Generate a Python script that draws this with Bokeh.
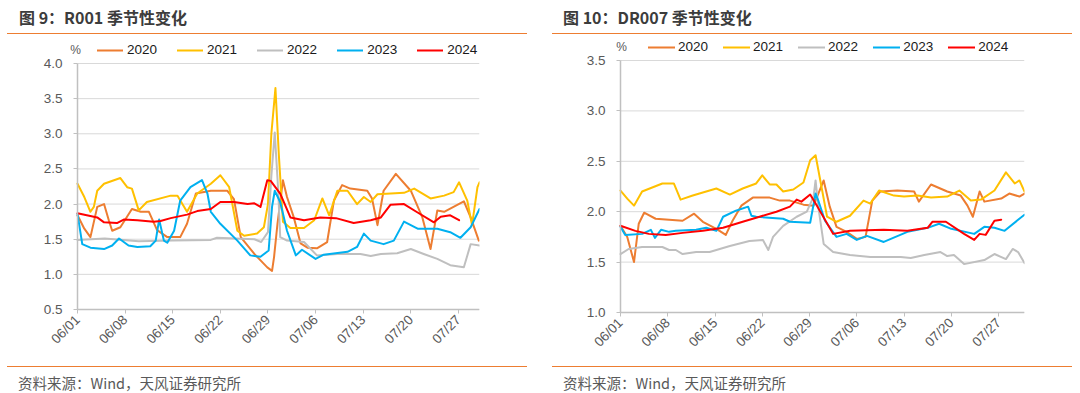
import math
from bokeh.plotting import figure
from bokeh.models import Range1d, FixedTicker, Legend, LegendItem, Label, Div
from bokeh.layouts import row, column
from bokeh.embed import file_html
from bokeh.resources import INLINE

# ---------------- data ----------------
years = ["2020", "2021", "2022", "2023", "2024"]
colors = ["#ED7D31", "#FFC000", "#BFBFBF", "#00B0F0", "#FF0000"]
tick_days = [0, 7, 14, 21, 28, 35, 42, 49, 56]
tick_labels = ["06/01", "06/08", "06/15", "06/22", "06/29", "07/06", "07/13", "07/20", "07/27"]

# R001 (left)
r001_2020_d = [0, 1, 1.9, 2.9, 3.9, 4.6, 5.1, 6.3, 8, 9.3, 10.5, 11.7, 13.2, 15.1, 16.1, 17.4, 19.6, 22, 23, 24, 26,
               27.9, 28.6, 28.9, 29.4, 30.2, 30.8, 31.8, 32.8, 33.8, 35.2, 36.7, 37.7, 38.9, 40.1, 42.6, 43.3, 44.1,
               45.0, 46.8, 49, 50.7, 51.9, 52.9, 53.9, 56.8, 57.8, 59]
r001_2020_v = [1.84, 1.65, 1.53, 1.96, 2.00, 1.77, 1.62, 1.67, 1.93, 1.89, 1.89, 1.63, 1.53, 1.53, 1.72, 2.15, 2.19,
               2.19, 2.07, 1.53, 1.29, 1.10, 1.05, 1.25, 1.72, 2.34, 2.10, 1.81, 1.44, 1.38, 1.37, 1.46, 2.05, 2.27,
               2.22, 2.19, 2.08, 1.70, 2.19, 2.43, 2.19, 1.81, 1.36, 1.91, 1.89, 2.04, 1.81, 1.48]
r001_2021_d = [0, 1, 1.9, 2.4, 2.9, 3.9, 6.3, 7.3, 8.0, 9.0, 10.2, 13.7, 14.7, 16.1, 17.6, 19.6, 21.0, 22.3, 23.5,
               24.5, 26.4, 27.4, 28.0, 28.5, 29.1, 29.6, 30.2, 31.3, 33.3, 34.8, 36.0, 37.0, 38.2, 39.7, 41.1, 42.1,
               43.1, 44.1, 48.0, 49.5, 51.9, 53.9, 55.3, 56.1, 57.3, 58.0, 58.8, 59.1]
r001_2021_v = [2.29, 2.10, 1.89, 1.96, 2.19, 2.29, 2.37, 2.24, 2.22, 1.91, 2.03, 2.12, 2.12, 1.89, 2.15, 2.29, 2.41,
               2.24, 1.62, 1.55, 1.58, 1.67, 2.00, 3.00, 3.65, 2.70, 1.75, 1.66, 1.66, 1.77, 2.08, 1.84, 2.19, 2.19,
               2.00, 2.10, 2.03, 2.14, 2.16, 2.22, 2.08, 2.12, 2.17, 2.31, 2.05, 1.70, 2.24, 2.31]
r001_2022_d = [0, 4, 9, 14, 19.6, 20.5, 26, 27, 28.0, 28.5, 29.0, 29.5, 29.8, 30.8, 33.3, 35.2, 38.2, 41.6, 43.1,
               44.6, 47.0, 49.0, 50.9, 52.9, 54.8, 56.8, 57.8, 59.1]
r001_2022_v = [1.49, 1.51, 1.47, 1.48, 1.49, 1.52, 1.50, 1.46, 1.60, 2.40, 3.02, 2.20, 1.53, 1.48, 1.46, 1.27, 1.29,
               1.29, 1.26, 1.29, 1.30, 1.36, 1.29, 1.22, 1.13, 1.10, 1.43, 1.41]
r001_2023_d = [0, 0.7, 1.9, 3.9, 5.1, 6.1, 7.5, 8.8, 10.7, 11.5, 12.0, 12.7, 13.2, 14.2, 15.1, 16.6, 18.3, 19.1,
               19.6, 21.0, 23.5, 25.4, 26.9, 28.1, 28.6, 29.0, 29.8, 30.8, 32.1, 33.0, 35.0, 36.2, 39.7, 41.1, 42.1,
               43.1, 45.0, 46.5, 48.0, 50.0, 52.9, 54.8, 56.3, 57.8, 59.1]
r001_2023_v = [1.86, 1.43, 1.38, 1.36, 1.41, 1.51, 1.41, 1.39, 1.40, 1.48, 1.78, 1.48, 1.45, 1.62, 2.05, 2.24, 2.34,
               2.15, 1.89, 1.72, 1.48, 1.27, 1.25, 1.34, 1.96, 2.19, 2.03, 1.62, 1.27, 1.35, 1.22, 1.28, 1.32, 1.39,
               1.58, 1.48, 1.43, 1.48, 1.75, 1.65, 1.65, 1.60, 1.52, 1.67, 1.93]
r001_2024_d = [0, 2.9, 3.9, 5.8, 6.8, 8.8, 11.2, 12.2, 13.7, 16.1, 17.6, 19.6, 21.0, 23.0, 25.0, 26.0, 26.9, 27.9,
               28.4, 29.8, 31.3, 33.3, 35.7, 38.0, 40.6, 43.1, 44.6, 46.0, 48.0, 50.0, 52.4, 53.4, 54.8, 56.1]
r001_2024_v = [1.87, 1.81, 1.74, 1.73, 1.78, 1.77, 1.75, 1.76, 1.80, 1.85, 1.90, 1.93, 2.03, 2.03, 2.00, 2.01, 1.96,
               2.34, 2.33, 2.15, 1.81, 1.77, 1.81, 1.80, 1.73, 1.77, 1.81, 1.99, 2.00, 1.88, 1.74, 1.82, 1.84, 1.77]

# DR007 (right)
dr007_2020_d = [0, 1, 2, 2.7, 3.5, 5.2, 9.2, 10.9, 12.2, 14.2, 15.6, 16.6, 17.9, 19.6, 22.1, 23.6, 25.1, 27.1, 28.6,
                30.1, 31.0, 32.0, 33.5, 35.0, 36.3, 37.3, 38.5, 41.0, 43.5, 44.2, 46.0, 48.4, 50.4, 51.4, 52.2, 53.2,
                53.9, 56.4, 57.6, 59.1, 59.85]
dr007_2020_v = [1.86, 1.75, 1.50, 1.88, 1.99, 1.93, 1.91, 1.98, 1.90, 1.83, 1.77, 1.91, 2.06, 2.14, 2.14, 2.11, 2.11,
                2.07, 2.06, 2.31, 2.05, 1.85, 1.80, 1.73, 1.75, 2.11, 2.20, 2.21, 2.20, 2.10, 2.27, 2.20, 2.16, 2.06,
                1.95, 2.20, 2.10, 2.13, 2.18, 2.15, 2.18]
dr007_2021_d = [0, 1, 2, 3.2, 6.2, 7.9, 8.9, 10.7, 14.2, 16.2, 18.1, 20.1, 21.0, 22.1, 23.1, 24.1, 25.6, 27.1, 28.1,
                28.9, 29.6, 30.6, 32.0, 34.0, 36.0, 37.0, 38.3, 40.5, 42.0, 44.0, 46.0, 48.4, 50.2, 51.9, 53.4, 55.4,
                57.1, 58.4, 59.1, 59.85]
dr007_2021_v = [2.21, 2.13, 2.06, 2.20, 2.28, 2.28, 2.12, 2.16, 2.23, 2.17, 2.23, 2.28, 2.36, 2.27, 2.27, 2.20, 2.22,
                2.29, 2.51, 2.56, 2.31, 1.95, 1.90, 1.96, 2.11, 2.08, 2.21, 2.16, 2.15, 2.16, 2.14, 2.15, 2.21, 2.11,
                2.12, 2.21, 2.39, 2.28, 2.31, 2.20]
dr007_2022_d = [0, 1.2, 3.2, 6.2, 7.2, 8.2, 9.2, 11.2, 13.2, 14.2, 16.2, 19.1, 21.1, 21.9, 22.6, 24.1, 26.1, 27.6,
                28.6, 28.9, 29.3, 30.1, 31.5, 34, 37, 41.5, 43, 45, 47.4, 48.4, 49.4, 50.9, 53.9, 55.4, 57.1, 58.1,
                58.9, 59.85]
dr007_2022_v = [1.58, 1.63, 1.65, 1.65, 1.62, 1.62, 1.58, 1.60, 1.60, 1.62, 1.66, 1.71, 1.72, 1.62, 1.75, 1.86, 1.95,
                2.00, 2.15, 2.31, 2.05, 1.68, 1.60, 1.57, 1.55, 1.55, 1.54, 1.57, 1.60, 1.56, 1.57, 1.48, 1.52, 1.58,
                1.53, 1.63, 1.60, 1.49]
dr007_2023_d = [0, 0.7, 3.2, 4.5, 5.1, 6.0, 7.2, 8.2, 11.2, 12.7, 14.2, 15.2, 17.1, 18.9, 19.4, 20.1, 24.1, 25.1,
                28.1, 28.9, 29.3, 30.3, 32.0, 33.5, 35.0, 36.5, 39.0, 42.5, 45.5, 47.2, 49.0, 52.4, 53.9, 55.4, 56.9,
                58.9, 59.85]
dr007_2023_v = [1.85, 1.77, 1.78, 1.82, 1.74, 1.82, 1.80, 1.81, 1.82, 1.84, 1.81, 1.95, 2.01, 2.05, 1.96, 1.95, 1.93,
                1.90, 1.89, 2.18, 2.11, 1.91, 1.75, 1.78, 1.72, 1.76, 1.70, 1.80, 1.84, 1.88, 1.83, 1.78, 1.85, 1.84,
                1.81, 1.92, 1.97]
dr007_2024_d = [0, 2.2, 4.2, 6.7, 9.2, 12.2, 15.2, 18.1, 20.6, 23.1, 25.1, 26.1, 26.8, 28.1, 29.1, 31.5, 34, 39,
                42.5, 45.5, 46.2, 48.2, 50.9, 52.4, 53.2, 54.1, 55.4, 56.4]
dr007_2024_v = [1.86, 1.81, 1.78, 1.77, 1.79, 1.81, 1.84, 1.90, 1.95, 2.00, 2.05, 2.12, 2.10, 2.17, 2.06, 1.78, 1.81,
                1.82, 1.81, 1.84, 1.90, 1.90, 1.78, 1.72, 1.78, 1.77, 1.91, 1.92]

left_title = "图 9：R001 季节性变化"
right_title = "图 10：DR007 季节性变化"
source_text = "资料来源：Wind，天风证券研究所"
unit_text = "%"
left_yticks = [0.5, 1.0, 1.5, 2.0, 2.5, 3.0, 3.5, 4.0]
right_yticks = [1.0, 1.5, 2.0, 2.5, 3.0, 3.5]

LABEL_FONT = "Liberation Sans"
CJK_FONT = "Noto Sans CJK SC"
ORANGE = "#ED7D31"
FIG_TOP = 34        # page y where the figures start
FIG_H = 332
FRAME_TOP = 38      # page y of the frame top
FRAME_BOTTOM = 360  # page y of the frame bottom (frame holds axes and their labels)
LEFT_PAD = 37       # frame extends this many px left of the y axis


def make_plot(series_d, series_v, yticks, px_per_unit, ytick_top_y, ytick_bot_y, px_per_day, xend,
              axis_x, mb_right, legend_dx, legend_cy, leg_glyph_w, leg_standoff, leg_spacing, pct_x, pct_y):
    xstart = -LEFT_PAD / px_per_day
    ytop = yticks[-1] + (ytick_top_y - FRAME_TOP) / px_per_unit
    ybot = yticks[0] - (FRAME_BOTTOM - ytick_bot_y) / px_per_unit
    p = figure(width=540, height=FIG_H, output_backend="svg", toolbar_location=None,
               x_range=Range1d(xstart, xend), y_range=Range1d(ybot, ytop),
               min_border_left=axis_x - LEFT_PAD, min_border_right=mb_right,
               min_border_top=FRAME_TOP - FIG_TOP,
               min_border_bottom=FIG_TOP + FIG_H - FRAME_BOTTOM, margin=(0, 0, 0, 0))
    p.outline_line_color = None
    p.background_fill_color = "white"
    p.border_fill_color = "white"
    p.xgrid.visible = False
    p.ygrid.visible = False

    # horizontal gridlines spanning the data domain only
    n = len(yticks)
    p.segment(x0=[0] * n, y0=yticks, x1=[xend] * n, y1=yticks, line_color="#D9D9D9", line_width=1)

    ya = p.yaxis[0]
    ya.fixed_location = 0
    ya.ticker = FixedTicker(ticks=yticks)
    ya.major_label_overrides = {t: f"{t:.1f}" for t in yticks}
    ya.bounds = (yticks[0], yticks[-1])
    ya.axis_line_color = "#C0C0C0"
    ya.axis_line_width = 1.5
    ya.major_tick_line_color = "#C0C0C0"
    ya.major_tick_out = 4
    ya.major_tick_in = 0
    ya.minor_tick_line_color = None
    ya.major_label_text_font = LABEL_FONT
    ya.major_label_text_font_size = "13.5px"
    ya.major_label_text_color = "#595959"
    ya.major_label_standoff = 11

    xa = p.xaxis[0]
    xa.fixed_location = yticks[0]
    xa.ticker = FixedTicker(ticks=tick_days)
    xa.major_label_overrides = dict(zip(tick_days, tick_labels))
    xa.bounds = (0, xend)
    xa.axis_line_color = "#C0C0C0"
    xa.axis_line_width = 1.5
    xa.major_tick_line_color = "#C0C0C0"
    xa.major_tick_out = 4
    xa.major_tick_in = 0
    xa.minor_tick_line_color = None
    xa.major_label_orientation = math.pi / 4
    xa.major_label_text_font = LABEL_FONT
    xa.major_label_text_font_size = "13.5px"
    xa.major_label_text_color = "#595959"
    xa.major_label_standoff = 4

    items = []
    for yr, c, d, v in zip(years, colors, series_d, series_v):
        r = p.line(d, v, line_color=c, line_width=2, line_join="round", line_cap="round")
        items.append(LegendItem(label=yr, renderers=[r]))

    legend = Legend(items=items, orientation="horizontal",
                    location=(legend_dx + LEFT_PAD, FRAME_BOTTOM - (legend_cy + 7)),
                    padding=0, margin=0, spacing=leg_spacing, glyph_width=leg_glyph_w, glyph_height=14,
                    label_height=14, label_standoff=leg_standoff,
                    label_text_font=LABEL_FONT, label_text_font_size="13.5px",
                    label_text_color="#1a1a1a", border_line_alpha=0, background_fill_alpha=0)
    p.add_layout(legend)

    p.add_layout(Label(x=pct_x, y=pct_y, text=unit_text, text_font=LABEL_FONT, text_font_size="12px",
                       text_color="#595959", text_align="center", text_baseline="middle"))
    return p


def title_div(text, offset, line_w, pad):
    html = (f'<div style="margin-left:{offset}px;width:{line_w}px;height:34px;box-sizing:border-box;'
            f'border-bottom:1.5px solid {ORANGE};padding-left:{pad}px;padding-top:8px;'
            f'font-family:\'{CJK_FONT}\';font-weight:bold;font-size:16px;line-height:18px;'
            f'color:#3c3c3c;white-space:nowrap;">{text}</div>')
    return Div(text=html, width=540, height=34, margin=(0, 0, 0, 0))


def source_div(text, offset, line_w, pad):
    html = (f'<div style="margin-left:{offset}px;width:{line_w}px;height:27px;box-sizing:border-box;'
            f'border-top:1.5px solid {ORANGE};padding-left:{pad}px;padding-top:8px;'
            f'font-family:\'{CJK_FONT}\';font-size:14.5px;line-height:16px;color:#595959;'
            f'white-space:nowrap;">{text}</div>')
    return Div(text=html, width=540, height=27, margin=(0, 0, 0, 0))


# left: y axis at page x 77, frame right 479; 4.0 at y 63, 0.5 at y 309; 6.8 px/day
p_left = make_plot(
    [r001_2020_d, r001_2021_d, r001_2022_d, r001_2023_d, r001_2024_d],
    [r001_2020_v, r001_2021_v, r001_2022_v, r001_2023_v, r001_2024_v],
    left_yticks, 70.29, 63, 309, 6.8, 59.1, 77, 61, 20, 50, 26, 4, 20, -0.3, 4.185)

# right: y axis at page x 620 (80 in the column), frame right 1024; 3.5 at y 60, 1.0 at y 312; 6.75 px/day
p_right = make_plot(
    [dr007_2020_d, dr007_2021_d, dr007_2022_d, dr007_2023_d, dr007_2024_d],
    [dr007_2020_v, dr007_2021_v, dr007_2022_v, dr007_2023_v, dr007_2024_v],
    right_yticks, 100.8, 60, 312, 6.75, 59.85, 80, 56, 28, 47, 27, 3, 15, 0.15, 3.629)

left_col = column(title_div(left_title, 7, 520, 12), p_left, source_div(source_text, 7, 520, 11),
                  spacing=0, margin=(0, 0, 0, 0))
right_col = column(title_div(right_title, 12, 520, 11), p_right, source_div(source_text, 12, 520, 11),
                   spacing=0, margin=(0, 0, 0, 0))
layout = row(left_col, right_col, spacing=0, margin=(0, 0, 0, 0))

open("out.html", "w").write(file_html(layout, INLINE))
